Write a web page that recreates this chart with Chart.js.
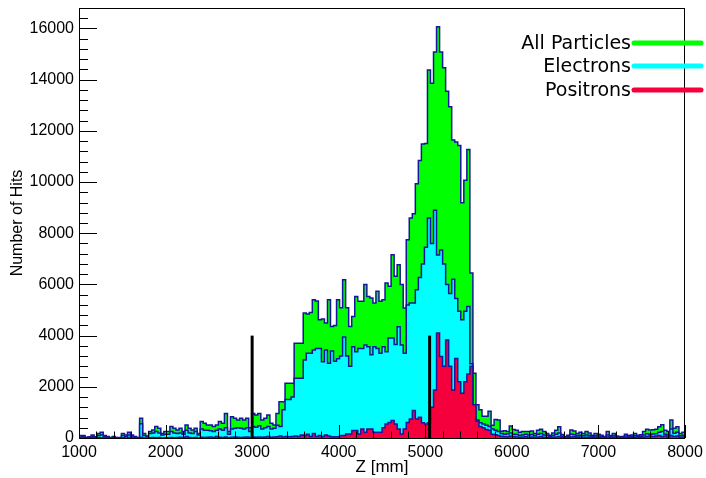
<!DOCTYPE html>
<html>
<head>
<meta charset="utf-8">
<script src="https://cdn.jsdelivr.net/npm/chart.js@4.4.1/dist/chart.umd.min.js"></script>
<style>
  html, body { margin: 0; padding: 0; background: #fff; }
  #wrap { width: 706px; height: 478px; }
</style>
</head>
<body>
<div id="wrap"><canvas id="hits" width="706" height="478"></canvas></div>
<script>
// Z histogram, 200 bins of 35 mm from 1000 to 8000 mm
const zStart = 1000, zStop = 8000, binWidth = 35

const allParticles = [
  100, 100, 30, 50, 120, 50, 180, 220, 100, 60,
  20, 60, 20, 20, 180, 120, 220, 120, 60, 20,
  770, 180, 80, 250, 310, 450, 380, 180, 250, 250,
  450, 380, 310, 380, 250, 510, 380, 310, 380, 180,
  640, 580, 510, 510, 450, 510, 640, 580, 960, 250,
  830, 770, 700, 770, 700, 770, 400, 960, 900, 960,
  700, 770, 900, 580, 510, 960, 1420, 1420, 2140, 2140,
  2140, 3700, 3700, 3700, 4880, 4840, 4900, 5400, 5350, 4620,
  4650, 4490, 5400, 4360, 4400, 5400, 5090, 6180, 5090, 4360,
  4750, 5530, 5340, 5340, 6000, 5530, 5470, 5270, 5730, 5340,
  5400, 6060, 5930, 7160, 6320, 6770, 6000, 5080, 7750, 8600,
  8760, 9930, 10840, 11490, 11510, 14380, 13860, 15080, 16070, 15080,
  14470, 13550, 12940, 11640, 11560, 11430, 9190, 10070, 11270, 6450,
  2530, 1300, 1100, 850, 850, 1050, 500, 720, 700, 260,
  280, 250, 470, 330, 300, 220, 250, 250, 250, 270,
  180, 300, 340, 250, 180, 110, 200, 300, 440, 140,
  60, 110, 310, 270, 180, 220, 180, 250, 200, 110,
  180, 150, 110, 60, 250, 100, 180, 80, 60, 60,
  150, 100, 120, 180, 110, 130, 250, 340, 310, 320,
  340, 440, 520, 300, 250, 700, 380, 440, 180, 220
]

const electrons = [
  40, 60, 10, 30, 60, 30, 100, 120, 50, 30,
  10, 30, 10, 10, 100, 60, 120, 60, 30, 10,
  560, 100, 60, 180, 200, 250, 200, 120, 150, 150,
  250, 200, 180, 200, 150, 300, 200, 180, 250, 120,
  350, 300, 300, 280, 250, 300, 350, 300, 400, 150,
  350, 380, 400, 380, 350, 400, 250, 450, 420, 480,
  350, 400, 450, 350, 380, 500, 450, 1100, 1500, 1500,
  1600, 2330, 2330, 2330, 3050, 3310, 3310, 3440, 3500, 3500,
  2980, 3440, 2920, 3400, 3000, 3100, 3200, 3950, 3200, 2800,
  3570, 3370, 3500, 3500, 3630, 3570, 3250, 3570, 3500, 3310,
  3570, 3370, 3910, 3910, 3650, 4350, 3630, 3310, 5200, 5270,
  5270, 5790, 6270, 6800, 7450, 8600, 7600, 8900, 7150, 7350,
  6800, 6000, 5650, 6200, 5450, 4950, 4620, 4950, 5140, 2900,
  1200, 700, 600, 550, 500, 450, 350, 300, 250, 180,
  150, 160, 200, 150, 140, 100, 120, 150, 120, 140,
  90, 150, 180, 120, 100, 60, 100, 150, 200, 70,
  30, 60, 150, 130, 90, 110, 90, 120, 100, 60,
  90, 70, 60, 30, 120, 50, 90, 40, 30, 30,
  80, 50, 60, 90, 60, 70, 120, 170, 150, 160,
  170, 220, 250, 150, 120, 350, 190, 220, 90, 110
]

const positrons = [
  0, 10, 0, 0, 10, 0, 20, 10, 0, 0,
  0, 0, 0, 0, 10, 0, 20, 0, 0, 0,
  30, 0, 0, 10, 20, 10, 20, 0, 10, 10,
  20, 10, 20, 30, 10, 60, 20, 10, 20, 0,
  30, 20, 30, 40, 20, 60, 30, 20, 40, 10,
  30, 40, 30, 20, 30, 40, 20, 40, 30, 40,
  30, 40, 60, 30, 40, 50, 80, 40, 60, 50,
  60, 80, 60, 120, 90, 150, 60, 180, 60, 100,
  60, 120, 80, 50, 50, 50, 100, 100, 160, 160,
  290, 290, 160, 350, 220, 350, 350, 220, 220, 220,
  400, 550, 610, 680, 550, 350, 160, 350, 610, 740,
  1070, 740, 810, 600, 550, 600, 1200, 1880, 4100, 3180,
  2800, 3830, 2800, 1880, 3110, 2200, 1750, 2200, 2500, 2800,
  1300, 650, 450, 400, 330, 300, 150, 130, 100, 70,
  60, 50, 80, 60, 40, 30, 40, 50, 30, 40,
  20, 40, 60, 30, 20, 10, 30, 40, 60, 20,
  10, 20, 40, 50, 30, 40, 20, 30, 40, 20,
  30, 20, 10, 0, 40, 10, 30, 10, 0, 10,
  20, 10, 20, 30, 20, 30, 40, 60, 80, 60,
  80, 100, 60, 80, 40, 100, 60, 80, 30, 40
]

// black marker lines
const markerZ = [3000, 5050]
const markerHits = [4000, 4000]

const xTicks = [1000, 2000, 3000, 4000, 5000, 6000, 7000, 8000]
const yTicks = [0, 2000, 4000, 6000, 8000, 10000, 12000, 14000, 16000]
const yTop = 16800

const seriesNames = ["All Particles", "Electrons", "Positrons"]
const seriesColors = ["#00ff00", "#00ffff", "#f5003c"]
const outline = "#16169c"

let binEdges = allParticles.map((_, i) => zStart + i * binWidth)

// points at left bin edges + closing point at the upper edge, drawn stepped
let toSteps = values => values.map((v, i) => ({x: binEdges[i], y: v}))
    .concat([{x: zStop, y: values[values.length - 1]}])

let histSet = (values, i) => ({
  label: seriesNames[i],
  data: toSteps(values),
  stepped: true,
  fill: "origin",
  backgroundColor: seriesColors[i],
  borderColor: outline,
  borderWidth: 1.5,
  pointRadius: 0,
  order: 3 - i
})

let markerSets = markerZ.map((z, i) => ({
  label: "marker" + i,
  data: [{x: z, y: 0}, {x: z, y: markerHits[i]}],
  borderColor: "#000",
  borderWidth: 3,
  fill: false,
  pointRadius: 0,
  order: 0
}))

// ROOT style frame with inward ticks
const rootFrame = {
  id: "rootFrame",
  afterDatasetsDraw(chart) {
    let {ctx, chartArea: a, scales: {x, y}} = chart
    ctx.save()
    ctx.strokeStyle = "#000"
    ctx.lineWidth = 1
    ctx.beginPath()
    for (let v = zStart; v <= zStop; v += 200) {
      let px = Math.round(x.getPixelForValue(v)) + 0.5
      let len = (v - zStart) % 1000 === 0 ? 13 : 6.5
      ctx.moveTo(px, a.bottom)
      ctx.lineTo(px, a.bottom - len)
    }
    for (let v = 0; v <= yTop; v += 400) {
      let py = Math.round(y.getPixelForValue(v)) + 0.5
      let len = v % 2000 === 0 ? 18 : 9
      ctx.moveTo(a.left, py)
      ctx.lineTo(a.left + len, py)
    }
    ctx.stroke()
    ctx.strokeRect(a.left + 0.5, a.top + 0.5, a.right - a.left - 1, a.bottom - a.top)
    ctx.restore()
  },
  afterDraw(chart) {
    let {ctx} = chart
    let rows = [44, 67, 91]
    ctx.save()
    ctx.font = '19px "DejaVu Sans"'
    ctx.textAlign = "right"
    ctx.textBaseline = "middle"
    seriesNames.forEach((name, i) => {
      ctx.fillStyle = "#000"
      ctx.fillText(name, 631, rows[i])
      ctx.strokeStyle = seriesColors[i]
      ctx.lineWidth = 5
      ctx.lineCap = "round"
      ctx.beginPath()
      ctx.moveTo(634, rows[i] - 1)
      ctx.lineTo(701, rows[i] - 1)
      ctx.stroke()
    })
    ctx.restore()
  }
}

let tickFont = {family: '"Liberation Sans", Arial, sans-serif', size: 16}

let myChart = new Chart(document.querySelector("#hits"), {
  type: "line",
  data: {
    datasets: [histSet(allParticles, 0), histSet(electrons, 1), histSet(positrons, 2)].concat(markerSets)
  },
  plugins: [rootFrame],
  options: {
    responsive: false,
    animation: false,
    layout: {padding: {top: 8, right: 21, left: 0, bottom: 0}},
    plugins: {legend: {display: false}, tooltip: {enabled: false}},
    scales: {
      x: {
        type: "linear",
        min: zStart,
        max: zStop,
        afterBuildTicks: s => { s.ticks = xTicks.map(value => ({value})) },
        afterFit: s => { s.height = 40; s.paddingLeft = 0; s.paddingRight = 0 },
        grid: {display: false, drawTicks: false},
        border: {display: false},
        ticks: {color: "#000", font: tickFont, padding: 5, maxRotation: 0, callback: v => String(v)},
        title: {display: true, text: "Z [mm]", color: "#000",
          font: {family: '"Liberation Sans", Arial, sans-serif', size: 17}, padding: 0}
      },
      y: {
        min: 0,
        max: yTop,
        afterBuildTicks: s => { s.ticks = yTicks.map(value => ({value})) },
        afterFit: s => { s.width = 79; s.paddingTop = 0; s.paddingBottom = 0 },
        grid: {display: false, drawTicks: false},
        border: {display: false},
        ticks: {color: "#000", font: tickFont, padding: 5, callback: v => String(v)},
        title: {display: true, text: "Number of Hits", color: "#000",
          font: {family: '"Liberation Sans", Arial, sans-serif', size: 16}, padding: {top: 8}}
      }
    }
  }
})
</script>
</body>
</html>
